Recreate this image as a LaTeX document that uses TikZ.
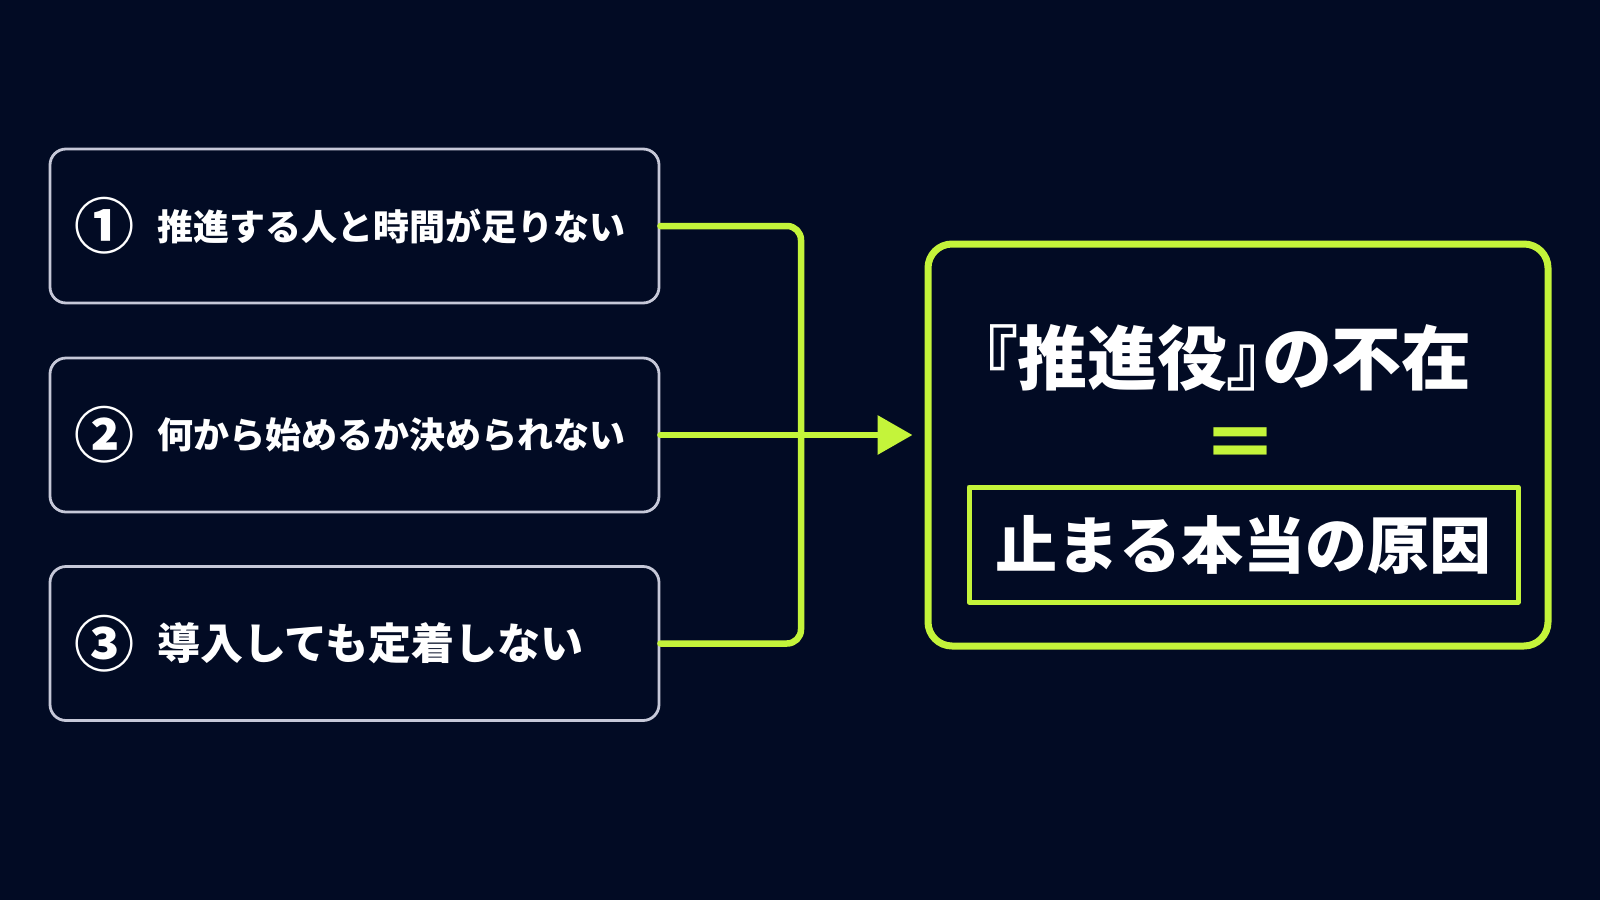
\documentclass[tikz,border=0pt]{standalone}
\usepackage{fontspec}
\newfontfamily\jp{Noto Sans CJK JP}
\newfontfamily\jppalt{Noto Sans CJK JP}[RawFeature=+palt]
\usetikzlibrary{positioning,arrows.meta}
\definecolor{bgnavy}{HTML}{020B24}
\definecolor{lime}{HTML}{C4F43A}
\definecolor{boxgray}{HTML}{C6C8D8}

\begin{document}
\begin{tikzpicture}[x=1pt,y=-1pt,line cap=round,line join=round,
  itembox/.style={draw=boxgray,line width=2.8pt,rounded corners=16pt,minimum width=609pt,minimum height=154pt},
  itemnum/.style={anchor=west,inner sep=0pt,text=white,font=\jp\bfseries\fontsize{60}{64}\selectfont},
  itemtext/.style={anchor=west,inner sep=0pt,text=white,font=\jp\bfseries\fontsize{36}{40}\selectfont},
  link/.style={draw=lime,line width=6.5pt}]
  % 背景
  \fill[bgnavy] (0,0) rectangle (1600,900);
  % 左の三つの課題
  \node[itembox] (item1) at (354.5,226) {};
  \node[itembox] (item2) at (354.5,435) {};
  \node[itembox] (item3) at (354.5,643.5) {};
  \node[itemnum] (num1) at ([xshift=26pt]item1.west) {①};
  \node[itemnum] (num2) at ([xshift=26pt]item2.west) {②};
  \node[itemnum] (num3) at ([xshift=26pt]item3.west) {③};
  \node[itemtext,right=22pt of num1] (txt1) {推進する人と時間が足りない};
  \node[itemtext,right=22pt of num2] (txt2) {何から始めるか決められない};
  \node[itemtext,right=22pt of num3,font=\jp\bfseries\fontsize{43}{47}\selectfont] (txt3) {導入しても定着しない};
  % 結論の枠
  \node[draw=lime,line width=7pt,rounded corners=24pt,minimum width=620pt,minimum height=402pt] (result) at (1238,445) {};
  \node[text=white,inner sep=0pt,font=\jppalt\bfseries\fontsize{70}{74}\selectfont] (absent) at (1227,358) {『推進役』の不在};
  \node[text=lime,inner sep=0pt,font=\jp\bfseries\fontsize{76}{80}\selectfont] (equal) at (1240,450) {＝};
  \node[draw=lime,line width=5pt,minimum width=549pt,minimum height=115pt,text=white,font=\jp\bfseries\fontsize{62}{66}\selectfont] (cause) at (1243.5,544.5) {止まる本当の原因};
  % 矢印
  \coordinate (joint) at (801,435);
  \draw[link,rounded corners=14pt] (item1.east) -| (joint) |- (item3.east);
  \draw[link,-{Triangle[length=35pt,width=38pt]},shorten >=12pt] (item2.east) -- (item2.east -| result.west);
\end{tikzpicture}
\end{document}
